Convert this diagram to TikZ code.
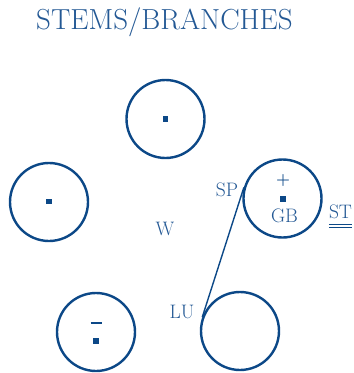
\documentclass[tikz,border=0pt]{standalone}
\usetikzlibrary{positioning}
\definecolor{titleblue}{RGB}{35,88,148}
\definecolor{stemblue}{RGB}{12,72,135}

\begin{document}
\begin{tikzpicture}[
    x=1pt, y=-1pt,
    stem/.style={circle, draw=stemblue, line width=2.4pt, minimum size=78pt, inner sep=0pt},
    pip/.style={rectangle, fill=stemblue, minimum size=5.5pt, inner sep=0pt},
    lbl/.style={text=titleblue, font=\fontsize{19.5}{19.5}\selectfont, inner sep=0pt},
    link/.style={draw=stemblue, line width=1.4pt}
]
\useasboundingbox (0,0) rectangle (354,373);

% Title
\node[text=titleblue, font=\fontsize{29}{29}\selectfont, inner sep=0pt, anchor=base] (title) at (164.5, 29.5) {STEMS/BRANCHES};

% Stems
\node[stem] (top) at (165.5, 119) {};
\node[stem] (left) at (49, 202) {};
\node[stem] (gb) at (282.5, 198.5) {};
\node[stem] (lu) at (240, 331) {};
\node[stem] (bl) at (96, 332) {};

% Marks inside
\node[pip] (top-dot) at (165.5, 119) {};
\node[pip] (left-dot) at (49, 201.5) {};
\node[pip] (gb-dot) at (283, 199) {};
\node[pip] (bl-dot) at (96, 341) {};
\node[text=stemblue, font=\bfseries\fontsize{16}{16}\selectfont, inner sep=0pt] (plus) at (283, 181) {+};
\draw[stemblue, line width=1.8pt] (90.5, 323) -- (101.5, 323);

% Labels
\node[lbl] (gb-txt) at (284.5, 215.5) {GB};
\node[lbl] (sp) at (227, 189.5) {SP};
\node[lbl] (lu-txt) at (182, 311.5) {LU};
\node[lbl] (w) at (165, 229) {W};
\node[lbl] (st) at (340.5, 211.5) {ST};
\draw[stemblue, line width=1pt] ([yshift=-5.5pt]st.south west) -- ([yshift=-5.5pt]st.south east);
\draw[stemblue, line width=1pt] ([yshift=-9pt]st.south west) -- ([yshift=-9pt]st.south east);

% Link between stems
\draw[link] (lu.160) -- (gb.164);

\end{tikzpicture}
\end{document}
